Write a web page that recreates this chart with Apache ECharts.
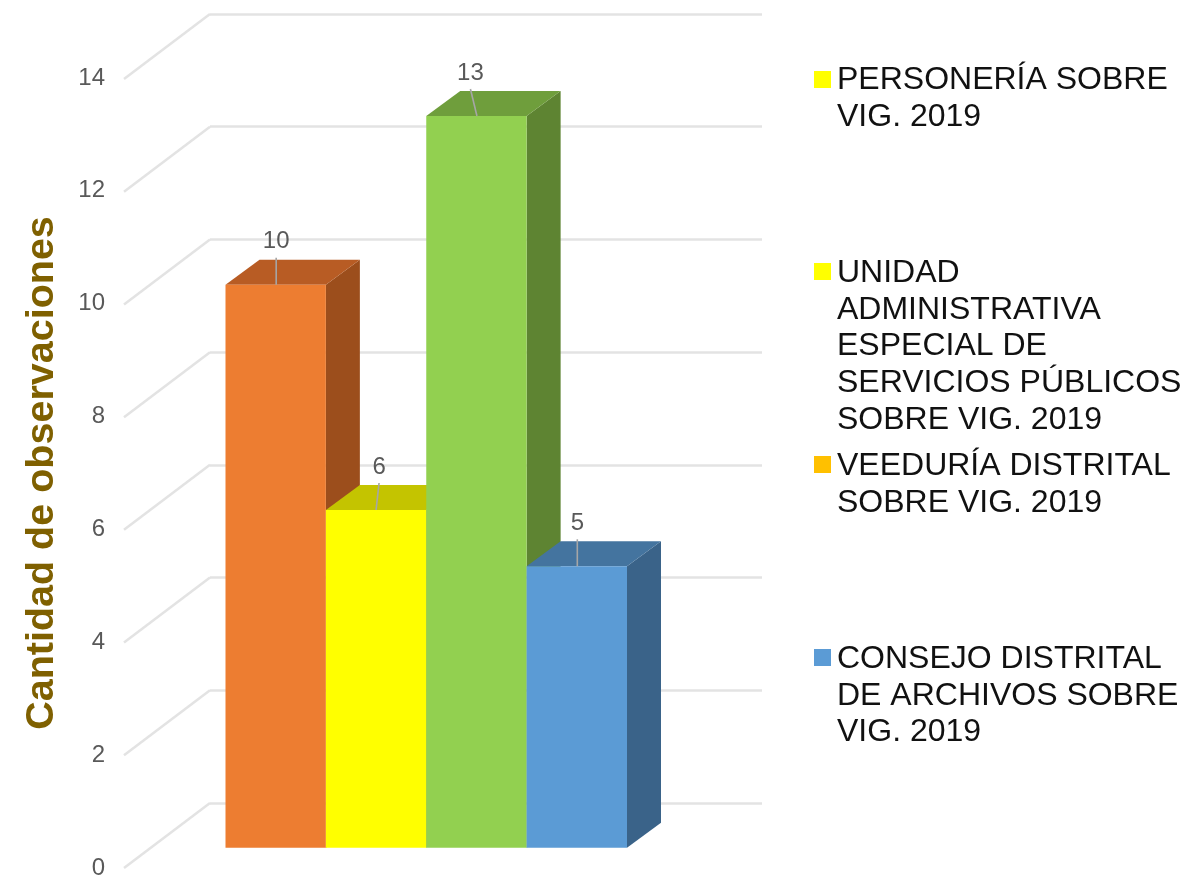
<!DOCTYPE html>
<html>
<head>
<meta charset="utf-8">
<style>html,body{margin:0;padding:0;background:#fff}#main{width:1192px;height:877px}</style>
<script src="https://cdn.jsdelivr.net/npm/echarts@6/dist/echarts.min.js"></script>
</head>
<body>
<div id="main"></div>
<script>
var categories = ['PERSONERÍA SOBRE\nVIG. 2019',
    'UNIDAD\nADMINISTRATIVA\nESPECIAL DE\nSERVICIOS PÚBLICOS\nSOBRE VIG. 2019',
    'VEEDURÍA DISTRITAL\nSOBRE VIG. 2019',
    'CONSEJO DISTRITAL\nDE ARCHIVOS SOBRE\nVIG. 2019'];
var values = [10, 6, 13, 5];
var wallTicks = [0, 2, 4, 6, 8, 10, 12, 14];
var frontColors = ['#ED7D31', '#FFFF00', '#92D050', '#5B9BD5'];
var topColors = ['#B85C24', '#C4C400', '#6F9E3C', '#44749F'];
var sideColors = ['#9C4E1C', '#A8A800', '#5E8432', '#3A6389'];
var legendColors = ['#FFFF00', '#FFFF00', '#FFC000', '#5B9BD5'];
var legendTops = [62, 255, 448, 641];
var squareTops = [71, 263, 456, 649];

var chart = echarts.init(document.getElementById('main'));

// depth of the bars and of the floor, in pixels
var barDx = 34, barDy = -25;
var wallDx = -86, wallDy = 65;
var legendLine = 36.6;
// the data labels lean away from the bar centre
var leaderShift = [0, 3, -6.5, 0];

function barItem(idx) {
    return function (params, api) {
        var base = api.coord([api.value(0), 0]);
        var head = api.coord([api.value(0), api.value(1)]);
        var w = api.size([1, 0])[0];
        var x0 = base[0] - w / 2, x1 = base[0] + w / 2;
        var y0 = base[1], y1 = head[1];
        var cx = base[0] + (idx === 1 ? 0 : 0.5);
        return {
            type: 'group',
            children: [
                { type: 'polygon', shape: { points: [[x1, y0], [x1 + barDx, y0 + barDy], [x1 + barDx, y1 + barDy], [x1, y1]] }, style: { fill: sideColors[idx] } },
                { type: 'polygon', shape: { points: [[x0, y1], [x1, y1], [x1 + barDx, y1 + barDy], [x0 + barDx, y1 + barDy]] }, style: { fill: topColors[idx] } },
                { type: 'rect', shape: { x: x0, y: y1, width: w, height: y0 - y1 }, style: { fill: frontColors[idx] } },
                // leader line and value label
                { type: 'line', shape: { x1: cx, y1: y1, x2: cx + leaderShift[idx], y2: y1 - 27 }, style: { stroke: '#A6A6A6', lineWidth: 1.6 } },
                { type: 'text', x: cx + leaderShift[idx], y: y1 - 43, style: { text: String(api.value(1)), fill: '#595959', font: '24px "Liberation Sans"', align: 'center', verticalAlign: 'middle' } }
            ]
        };
    };
}

var series = [{
    type: 'custom',
    name: 'piso',
    xAxisIndex: 0,
    yAxisIndex: 0,
    silent: true,
    data: wallTicks.map(function (v) { return [0, v]; }),
    renderItem: function (params, api) {
        var p = api.coord([0, api.value(1)]);
        return { type: 'line', shape: { x1: p[0], y1: p[1], x2: p[0] + wallDx, y2: p[1] + wallDy }, style: { stroke: '#E3E3E3', lineWidth: 2.5 } };
    }
}];
categories.forEach(function (name, i) {
    series.push({
        type: 'custom',
        name: name,
        xAxisIndex: 1,
        yAxisIndex: 1,
        itemStyle: { color: legendColors[i] },
        data: [[i, values[i]]],
        encode: { x: 0, y: 1 },
        renderItem: barItem(i)
    });
});

// one legend holds the wrapped text, another only the square, so the square
// can sit level with the first line
var legends = [];
categories.forEach(function (name, i) {
    legends.push({
        left: 815, top: legendTops[i], orient: 'vertical',
        itemWidth: 17, itemHeight: 17, itemGap: 0, selectedMode: false,
        icon: 'rect', padding: 0,
        textStyle: { color: '#111', fontSize: 32, lineHeight: legendLine, fontFamily: 'Liberation Sans' },
        data: [{ name: name, itemStyle: { color: 'rgba(0,0,0,0)' } }]
    });
    legends.push({
        left: 814, top: squareTops[i], orient: 'vertical',
        itemWidth: 17, itemHeight: 17, itemGap: 0, selectedMode: false,
        icon: 'rect', padding: 0,
        formatter: function () { return ' '; },
        textStyle: { fontSize: 8, lineHeight: 8 },
        data: [{ name: name, itemStyle: { color: legendColors[i] } }]
    });
});

chart.setOption({
    animation: false,
    backgroundColor: '#fff',
    textStyle: { fontFamily: 'Liberation Sans' },
    grid: [
        { left: 210, top: 14, width: 552, height: 789, outerBoundsMode: 'none' },   // back wall
        { left: 225.5, top: 59.7, width: 401.5, height: 788, outerBoundsMode: 'none' }, // front of the bars
        { left: 130, top: 78, width: 10, height: 790, outerBoundsMode: 'none' }     // tick labels
    ],
    xAxis: [
        { gridIndex: 0, type: 'value', min: 0, max: 1, show: false },
        { gridIndex: 1, type: 'category', data: categories, show: false },
        { gridIndex: 2, type: 'value', min: 0, max: 1, show: false }
    ],
    yAxis: [
        { gridIndex: 0, type: 'value', min: 0, max: 14, interval: 2,
          axisLine: { show: false }, axisTick: { show: false }, axisLabel: { show: false },
          splitLine: { lineStyle: { color: '#E3E3E3', width: 2.5 } } },
        { gridIndex: 1, type: 'value', min: 0, max: 14, interval: 2, show: false },
        { gridIndex: 2, type: 'value', min: 0, max: 14, interval: 2,
          axisLine: { show: false }, axisTick: { show: false }, splitLine: { show: false },
          axisLabel: { color: '#595959', fontSize: 24, margin: 25, fontFamily: 'Liberation Sans' },
          name: 'Cantidad de observaciones', nameLocation: 'middle', nameGap: 68, nameRotate: 90,
          nameTextStyle: { color: '#7F6000', fontSize: 39.5, fontWeight: 'bold', fontFamily: 'Liberation Sans' } }
    ],
    legend: legends,
    series: series
});
</script>
</body>
</html>
